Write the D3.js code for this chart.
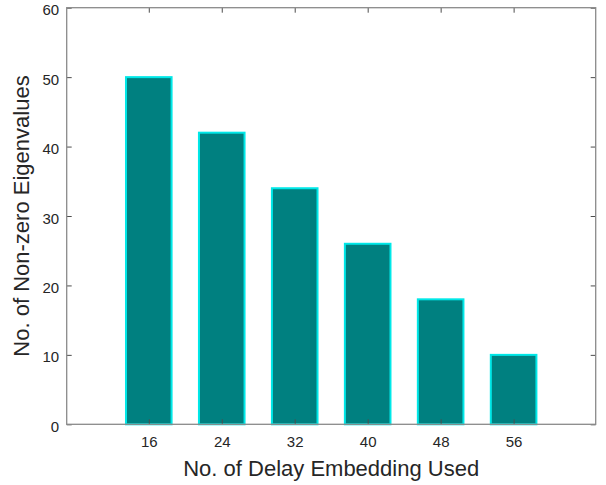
<!DOCTYPE html>
<html>
<head>
<meta charset="utf-8">
<script src="https://cdn.jsdelivr.net/npm/d3@7"></script>
<style>
  html, body { margin: 0; padding: 0; background: #fff; }
  svg { display: block; }
  text { font-family: "Liberation Sans", Arial, Helvetica, sans-serif; fill: #262626; }
</style>
</head>
<body>
<svg id="chart" width="606" height="485"></svg>
<script>
const categories = [16, 24, 32, 40, 48, 56];
const values = [50, 42, 34, 26, 18, 10];
const yTicks = [0, 10, 20, 30, 40, 50, 60];
const xLabel = "No. of Delay Embedding Used";
const yLabel = "No. of Non-zero Eigenvalues";

(function () {
const mL = 66.7, mR = 595.7, mT = 7.7, mB = 424.3;
const svg = d3.select("#chart");

const x = d3.scaleLinear().domain([7, 65]).range([mL, mR]);
const y = d3.scaleLinear().domain([0, 60]).range([mB, mT]);
const barW = 5; // data units

// bars
svg.append("g").selectAll("rect").data(categories).join("rect")
  .attr("x", (d) => x(d - barW / 2))
  .attr("width", (d) => x(d + barW / 2) - x(d - barW / 2))
  .attr("y", (d, i) => y(values[i]))
  .attr("height", (d, i) => y(0) - y(values[i]))
  .attr("fill", "#008080")
  .attr("stroke", "#00e8e8")
  .attr("stroke-width", 2);

const axisColor = "#8a8a8a";
const tickLen = 5;
const tickFont = 15;

const xAxisB = svg.append("g").attr("transform", `translate(0,${mB})`)
  .call(d3.axisBottom(x).tickValues(categories).tickSizeInner(-tickLen).tickSizeOuter(0).tickPadding(12.5));
const yAxisL = svg.append("g").attr("transform", `translate(${mL},0)`)
  .call(d3.axisLeft(y).tickValues(yTicks).tickSizeInner(-tickLen).tickSizeOuter(0).tickPadding(7.5));
const xAxisT = svg.append("g").attr("transform", `translate(0,${mT})`)
  .call(d3.axisTop(x).tickValues(categories).tickSizeInner(-tickLen).tickSizeOuter(0).tickFormat(""));
const yAxisR = svg.append("g").attr("transform", `translate(${mR},0)`)
  .call(d3.axisRight(y).tickValues(yTicks).tickSizeInner(-tickLen).tickSizeOuter(0).tickFormat(""));

[xAxisB, yAxisL, xAxisT, yAxisR].forEach(g => {
  g.select(".domain").remove();
  g.attr("font-size", tickFont).attr("font-family", "'Liberation Sans', Arial, sans-serif");
  g.selectAll(".tick line").attr("stroke", "#4d4d4d").attr("stroke-width", 1);
  g.selectAll(".tick text").attr("font-size", tickFont).attr("fill", "#262626");
});
xAxisB.selectAll(".tick text").attr("dy", "0.71em");
yAxisL.selectAll(".tick text").attr("dy", "0.47em");

svg.append("rect")
  .attr("x", mL).attr("y", mT)
  .attr("width", mR - mL).attr("height", mB - mT)
  .attr("fill", "none").attr("stroke", axisColor).attr("stroke-width", 1.3);

svg.append("text")
  .attr("x", (mL + mR) / 2).attr("y", 476)
  .attr("text-anchor", "middle").attr("font-size", 22)
  .text(xLabel);
svg.append("text")
  .attr("transform", `translate(29,${(mT + mB) / 2}) rotate(-90)`)
  .attr("text-anchor", "middle").attr("font-size", 22)
  .text(yLabel);
})();
</script>
</body>
</html>
